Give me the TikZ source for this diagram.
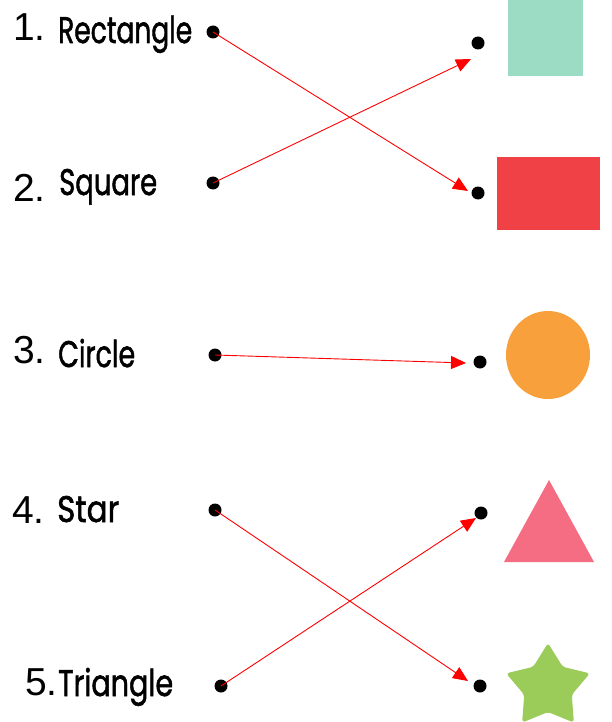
\documentclass[tikz,border=0pt]{standalone}
\usepackage{fontspec}
\usepackage{graphicx}
\usetikzlibrary{arrows.meta}
\newfontfamily\wordfont[RawFeature={embolden=1.6}]{Poppins}
\newfontfamily\numfont{Liberation Sans}
\definecolor{teal1}{HTML}{9CDCC4}
\definecolor{red1}{HTML}{F04146}
\definecolor{orange1}{HTML}{F8A03C}
\definecolor{pink1}{HTML}{F46D82}
\definecolor{green1}{HTML}{9BCB58}
\newcommand{\fitw}[2]{\resizebox{#1pt}{\height}{#2}}
\begin{document}
\begin{tikzpicture}[x=1pt,y=-1pt,
  dotnode/.style={circle,fill=black,inner sep=0pt,minimum size=13pt},
  numlabel/.style={anchor=base west,inner sep=0pt,font=\numfont\fontsize{39}{42}\selectfont},
  wordlabel/.style={anchor=base west,inner sep=0pt,font=\wordfont\fontsize{37}{40}\selectfont},
  matcharrow/.style={draw=red,line width=0.9pt,-{Triangle[length=15pt,width=13pt]}}]
\useasboundingbox (0,0) rectangle (611,722);
% labels
\node[numlabel] (n1) at (13,41) {1.};
\node[wordlabel] (w1) at (58,43) {\fitw{134}{Rectangle}};
\node[numlabel] (n2) at (13,201) {2.};
\node[wordlabel] (w2) at (59,195) {\fitw{98}{Square}};
\node[numlabel] (n3) at (13,363) {3.};
\node[wordlabel] (w3) at (58,367) {\fitw{77}{Circle}};
\node[numlabel] (n4) at (12,523) {4.};
\node[wordlabel] (w4) at (57,522) {\fitw{62}{Star}};
\node[numlabel] (n5) at (25,695) {5.};
\node[wordlabel] (w5) at (58,696) {\fitw{115}{Triangle}};
% shapes
\fill[teal1] (508,0) rectangle (583,76);
\fill[red1] (497,157) rectangle (600,230);
\fill[orange1] (548,355) ellipse [x radius=42, y radius=44];
\fill[pink1] (549,480) -- (594,562) -- (504,562) -- cycle;
\fill[green1,rounded corners=3pt] (548,643) -- (562.70,666.77) -- (589.85,673.40)
  -- (571.78,694.73) -- (573.86,722.60) -- (548,712) -- (522.14,722.60)
  -- (524.22,694.73) -- (506.15,673.40) -- (533.30,666.77) -- cycle;
% dots
\node[dotnode] (L1) at (213,32) {};
\node[dotnode] (L2) at (213,183) {};
\node[dotnode] (L3) at (215,355) {};
\node[dotnode] (L4) at (215,510) {};
\node[dotnode] (L5) at (221,686) {};
\node[dotnode] (R1) at (478,43) {};
\node[dotnode] (R2) at (478,193) {};
\node[dotnode] (R3) at (480,362) {};
\node[dotnode] (R4) at (481,513) {};
\node[dotnode] (R5) at (480,686) {};
% arrow tips
\coordinate (T1) at (471,59);
\coordinate (T2) at (468,191);
\coordinate (T3) at (466,363);
\coordinate (T4) at (476,518);
\coordinate (T5) at (468,681);
\draw[matcharrow] (L1.center) -- (T2);
\draw[matcharrow] (L2.center) -- (T1);
\draw[matcharrow] (L3.center) -- (T3);
\draw[matcharrow] (L4.center) -- (T5);
\draw[matcharrow] (L5.center) -- (T4);
\end{tikzpicture}
\end{document}
